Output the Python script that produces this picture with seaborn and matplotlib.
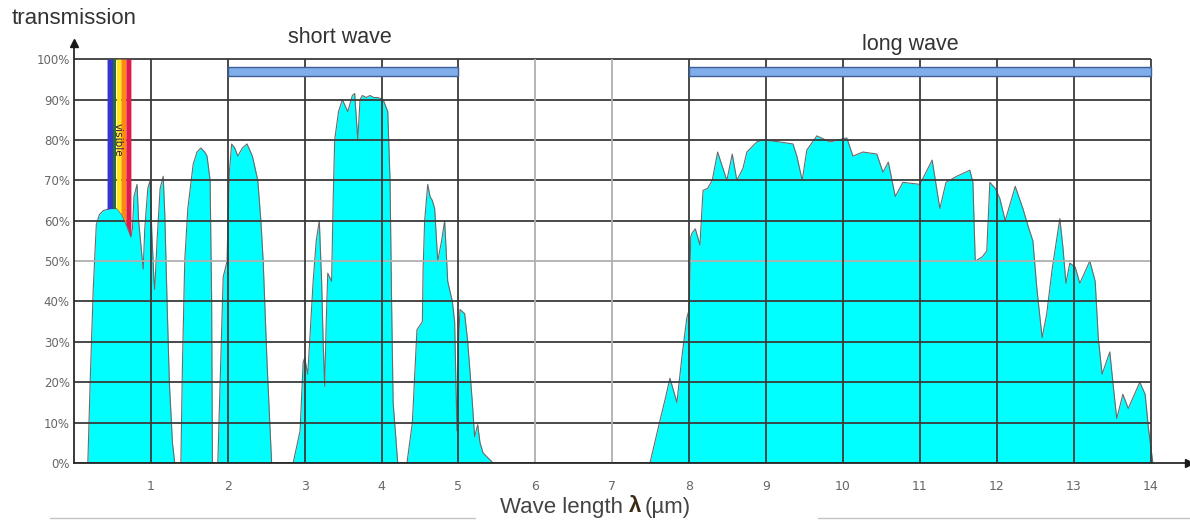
import numpy as np
import matplotlib
matplotlib.use("Agg")
import matplotlib.pyplot as plt
import seaborn as sns

# Atmospheric transmission spectrum (wavelength in µm, transmission in %)
wavelength = [
    0.18, 0.21, 0.25, 0.29, 0.33, 0.38, 0.47, 0.56, 0.62, 0.68, 0.74, 0.76, 0.78,
    0.82, 0.84, 0.88, 0.90, 0.92, 0.96, 0.99, 1.01, 1.04, 1.05, 1.08, 1.12, 1.16,
    1.18, 1.21, 1.24, 1.28, 1.31, 1.39, 1.41, 1.44, 1.48, 1.55, 1.60, 1.65, 1.70,
    1.73, 1.77, 1.79, 1.80, 1.87, 1.90, 1.94, 1.99, 2.02, 2.05, 2.09, 2.13, 2.19,
    2.25, 2.32, 2.39, 2.43, 2.46, 2.51, 2.57, 2.85, 2.94, 2.98, 3.00, 3.04, 3.08,
    3.11, 3.15, 3.19, 3.22, 3.24, 3.26, 3.28, 3.30, 3.35, 3.37, 3.39, 3.44, 3.49,
    3.56, 3.62, 3.65, 3.69, 3.72, 3.75, 3.80, 3.85, 3.90, 3.95, 4.02, 4.08, 4.11,
    4.13, 4.15, 4.21, 4.33, 4.40, 4.46, 4.53, 4.54, 4.56, 4.60, 4.63, 4.66, 4.69,
    4.73, 4.78, 4.82, 4.86, 4.92, 4.95, 4.98, 5.00, 5.02, 5.08, 5.12, 5.18, 5.21,
    5.25, 5.28, 5.32, 5.45, 7.49, 7.62, 7.69, 7.75, 7.84, 7.91, 7.97, 8.00, 8.02,
    8.04, 8.08, 8.14, 8.18, 8.24, 8.30, 8.37, 8.49, 8.56, 8.62, 8.70, 8.75, 8.88,
    8.96, 9.18, 9.35, 9.40, 9.47, 9.53, 9.66, 9.83, 10.05, 10.13, 10.26, 10.44,
    10.52, 10.59, 10.68, 10.78, 11.00, 11.16, 11.26, 11.34, 11.48, 11.65, 11.69,
    11.72, 11.81, 11.87, 11.91, 11.98, 12.04, 12.11, 12.24, 12.34, 12.41, 12.47,
    12.52, 12.59, 12.65, 12.72, 12.82, 12.86, 12.90, 12.95, 13.02, 13.08, 13.21,
    13.28, 13.32, 13.37, 13.47, 13.51, 13.56, 13.64, 13.71, 13.86, 13.93, 13.97,
    14.03,
]
transmission = [
    0, 20, 43, 59, 61.5, 62.5, 63, 63, 61.5, 59, 56, 58, 66,
    69, 60, 52, 48, 58, 68, 70, 58, 45, 43, 55, 68, 71,
    62, 40, 20, 5, 0, 0, 24, 50, 63, 74, 77, 78, 77,
    76, 70, 40, 0, 0, 20, 46, 50, 72, 79, 78, 76, 78,
    79, 76, 70, 60, 50, 25, 0, 0, 8, 25, 26, 22, 35,
    45, 55, 60, 45, 30, 19, 35, 47, 45, 65, 80, 87, 90,
    87, 91, 91.5, 80, 90, 91, 90.5, 91, 90.5, 90.5, 90, 87, 70,
    40, 15, 0, 0, 10, 33, 35, 48, 60, 69, 66, 65, 63,
    50, 55, 60, 45, 40, 35, 8, 30, 38, 37, 30, 15, 6.5,
    9.5, 5, 2.5, 0, 0, 10.5, 16, 21, 15, 27, 36, 38, 56,
    57, 58, 54, 67.5, 68, 70, 77, 70, 76.5, 70, 73, 77, 79.5,
    80, 79.5, 79, 76, 70, 77.5, 81, 79.5, 80.5, 76, 77, 76.5,
    72, 74.5, 66, 69.5, 69, 75, 63, 69.5, 71, 72.5, 69.5,
    50, 51, 52.5, 69.5, 68, 65.5, 60, 68.5, 63, 58.5, 55,
    43.5, 31, 37, 48, 60.5, 53.5, 44.5, 49.5, 48.5, 44.5, 50,
    45, 31, 22, 27.5, 20, 11, 17, 13.5, 20, 17, 9,
    0,
]

x_ticks = list(range(1, 15))
y_ticks = list(range(0, 101, 10))
y_tick_labels = [f"{v}%" for v in y_ticks]

# Atmospheric windows marked above the plot
band_names = ["short wave", "long wave"]
band_start = [2, 8]
band_end = [5, 14]

# Visible-light strip (µm) and its colours
visible_edges = [0.43, 0.51, 0.55, 0.61, 0.675, 0.74]
visible_colors = ["#3434d0", "#2c6a3a", "#ffe817", "#ff8a12", "#de1b4c"]

sns.set_style("white")
plt.rcParams["font.family"] = ["Liberation Sans", "DejaVu Sans"]

W, H = 1190, 520
fig = plt.figure(figsize=(W / 100, H / 100), dpi=100)
ax = fig.add_axes([74 / W, 57 / H, 1115 / W, 420 / H])
ax.set_xlim(0, 14.5)
ax.set_ylim(0, 104)

wl = np.array(wavelength)
tr = np.array(transmission)

# cyan transmission area with its thin outline
ax.fill_between(wl, 0, tr, color="#00ffff", linewidth=0, zorder=1)
sns.lineplot(x=wl, y=tr, ax=ax, color="#6a6a6a", linewidth=0.8,
             sort=False, estimator=None, zorder=1.5)

# grid drawn over the area, limited to the 0–14 µm / 0–100 % frame
dark, light = "#3a3a3a", "#b0b0b0"
for v in y_ticks:
    ax.hlines(v, 0, 14, color=light if v == 50 else dark,
              linewidth=1.3, zorder=2)
for v in x_ticks:
    ax.vlines(v, 0, 100, color=light if v in (6, 7) else dark,
              linewidth=1.3, zorder=2)

# visible spectrum strip, from the curve up to 100 %
for c, a, b in zip(visible_colors, visible_edges[:-1], visible_edges[1:]):
    xs = np.linspace(a, b, 20)
    ax.fill_between(xs, np.interp(xs, wl, tr), 100, color=c,
                    linewidth=0, zorder=2.5)
ax.text(0.57, 80, "visible", rotation=-90, ha="center", va="center",
        fontsize=7.5, color="#2a1e3a", family="DejaVu Sans", zorder=3)

# short / long wave bars
for name, a, b in zip(band_names, band_start, band_end):
    ax.barh(96.9, b - a, left=a, height=2.3, color="#80aeea",
            edgecolor="#3c5f96", linewidth=1.0, zorder=4)
ax.text(3.46, 105.4, band_names[0], ha="center", va="center",
        fontsize=15.5, color="#333333", clip_on=False)
ax.text(10.87, 103.7, band_names[1], ha="center", va="center",
        fontsize=15.5, color="#333333", clip_on=False)

# axes with arrowheads
for s in ("top", "right"):
    ax.spines[s].set_visible(False)
for s in ("left", "bottom"):
    ax.spines[s].set_color("#2a2a2a")
    ax.spines[s].set_linewidth(1.3)
    ax.spines[s].set_zorder(5)
ax.plot(0, 1, marker="^", color="#1a1a1a", markersize=6,
        transform=ax.get_xaxis_transform(), clip_on=False, zorder=6)
ax.plot(1, 0, marker=">", color="#1a1a1a", markersize=6,
        transform=ax.get_yaxis_transform(), clip_on=False, zorder=6)

ax.set_xticks(x_ticks)
ax.set_xticklabels([str(v) for v in x_ticks])
ax.set_yticks(y_ticks)
ax.set_yticklabels(y_tick_labels)
ax.tick_params(axis="x", length=4, width=1, color="#3a3a3a", pad=8,
               labelsize=9, labelcolor="#666666")
ax.tick_params(axis="y", length=0, pad=3, labelsize=8.5,
               labelcolor="#666666")
for lab in ax.get_xticklabels() + ax.get_yticklabels():
    lab.set_family("DejaVu Sans")
ax.set_xlabel("")
ax.set_ylabel("")

# titles around the frame
fig.text(12 / W, 1 - 18 / H, "transmission", ha="left", va="center",
         fontsize=16, color="#333333")
fig.text(500 / W, 1 - 507 / H, "Wave length", ha="left", va="center",
         fontsize=16, color="#444444")
fig.text(629 / W, 1 - 507 / H, "λ", ha="left", va="center",
         fontsize=16, fontweight="bold", color="#3d2a14")
fig.text(645 / W, 1 - 507 / H, "(µm)", ha="left", va="center",
         fontsize=16, color="#444444")

# thin rules along the bottom edge
fig.add_artist(plt.Line2D([50 / W, 475 / W], [1 - 518 / H] * 2,
                          color="#c4c4c4", linewidth=1))
fig.add_artist(plt.Line2D([818 / W, 1.0], [1 - 518 / H] * 2,
                          color="#c4c4c4", linewidth=1))

fig.savefig("out.png", dpi=100)
